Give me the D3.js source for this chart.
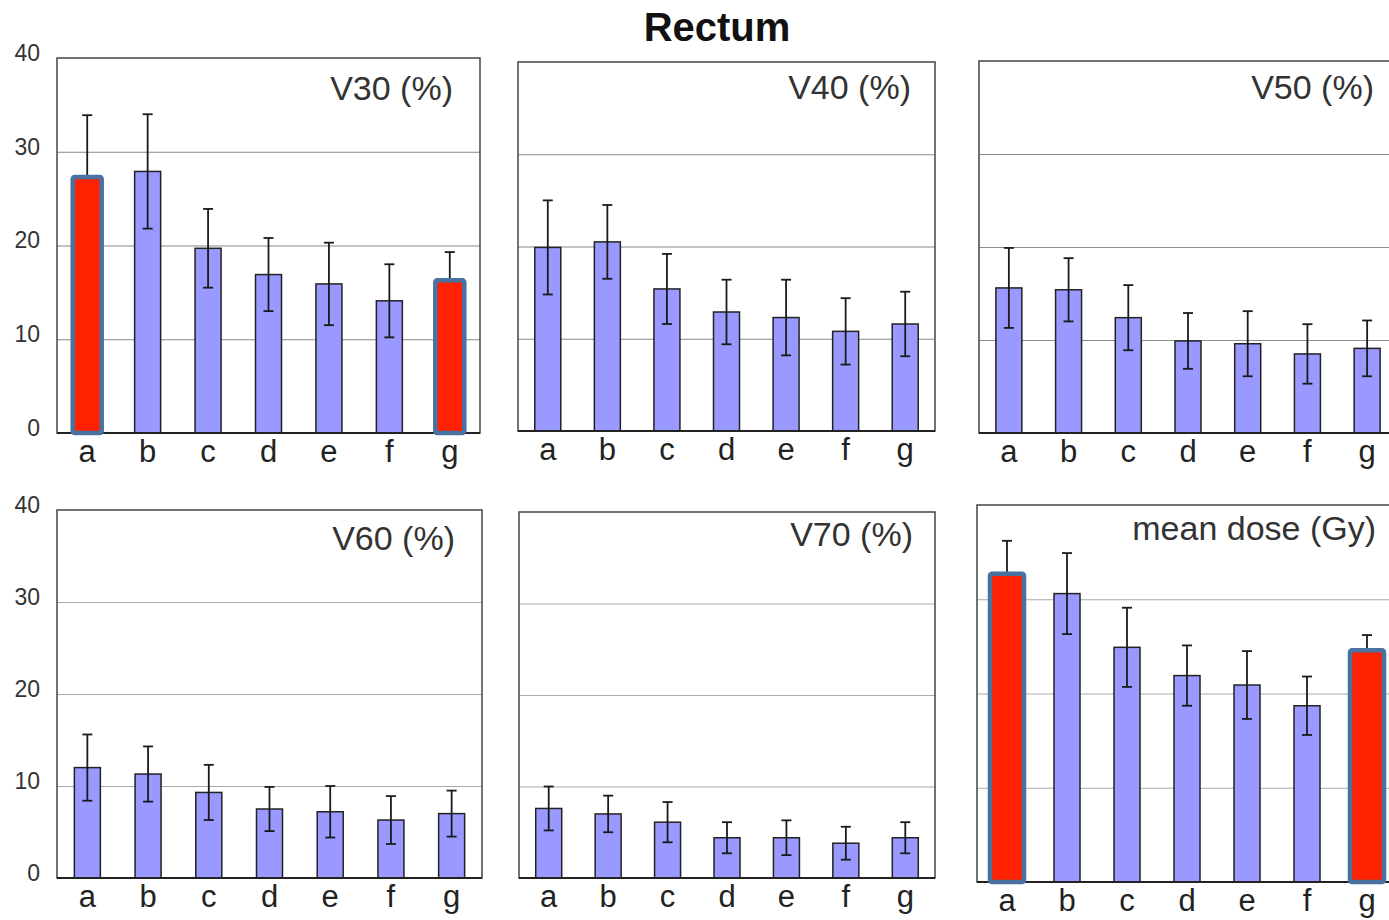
<!DOCTYPE html>
<html>
<head>
<meta charset="utf-8">
<script src="https://cdn.jsdelivr.net/npm/d3@7"></script>
<style>
  body { margin: 0; background: #fff; }
  text { font-family: "Liberation Sans", Arial, sans-serif; }
</style>
</head>
<body>
<svg id="chart"></svg>
<script>
// data (means and half error-bar lengths)
const categories = ["a", "b", "c", "d", "e", "f", "g"];
const yTicks = [0, 10, 20, 30, 40];
const panelTitles = ["V30 (%)", "V40 (%)", "V50 (%)", "V60 (%)", "V70 (%)", "mean dose (Gy)"];

const v30Mean = [27.3, 27.9, 19.7, 16.9, 15.9, 14.1, 16.3];
const v30Sd = [6.6, 6.1, 4.2, 3.9, 4.4, 3.9, 3.0];
const v40Mean = [19.9, 20.5, 15.4, 12.9, 12.3, 10.8, 11.6];
const v40Sd = [5.1, 4.0, 3.8, 3.5, 4.1, 3.6, 3.5];
const v50Mean = [15.6, 15.4, 12.4, 9.9, 9.6, 8.5, 9.1];
const v50Sd = [4.3, 3.4, 3.5, 3.0, 3.5, 3.2, 3.0];
const v60Mean = [12.0, 11.3, 9.3, 7.5, 7.2, 6.3, 7.0];
const v60Sd = [3.6, 3.0, 3.0, 2.4, 2.8, 2.6, 2.5];
const v70Mean = [7.6, 7.0, 6.1, 4.4, 4.4, 3.8, 4.4];
const v70Sd = [2.4, 2.0, 2.2, 1.7, 1.9, 1.8, 1.7];
const meanDose = [32.7, 30.6, 24.9, 21.9, 20.9, 18.7, 24.6];
const meanDoseSd = [3.5, 4.3, 4.2, 3.2, 3.6, 3.1, 1.6];

// bars drawn in red in some panels
const highlighted = [["a", "g"], [], [], [], [], ["a", "g"]];

const seriesMeans = [v30Mean, v40Mean, v50Mean, v60Mean, v70Mean, meanDose];
const seriesSds = [v30Sd, v40Sd, v50Sd, v60Sd, v70Sd, meanDoseSd];

// panel boxes on the page (titleY = absolute baseline of the panel title)
const layout = [
  { x: 57, y: 58, w: 423, h: 375, redW: 29, axis: true, grid: "#888", titleY: 100, titleR: 453 },
  { x: 518, y: 62, w: 417, h: 369, redW: 29, axis: false, grid: "#888", titleY: 99, titleR: 911 },
  { x: 979, y: 61, w: 418, h: 372, redW: 29, axis: false, grid: "#8c8c8c", titleY: 99, titleR: 1374 },
  { x: 57, y: 510, w: 425, h: 368, redW: 29, axis: true, grid: "#aaa", titleY: 550, titleR: 455 },
  { x: 519, y: 512, w: 416, h: 366, redW: 29, axis: false, grid: "#aaa", titleY: 546, titleR: 913 },
  { x: 977, y: 505, w: 420, h: 377, redW: 34, axis: false, grid: "#aaa", titleY: 540, titleR: 1376 },
];

const width = 1389;
const height = 920;
const blueFill = "#9999ff";
const redFill = "#ff2200";
const redStroke = "#4a72a0";

const svg = d3.select("#chart").attr("width", width).attr("height", height);

svg.append("text")
  .attr("x", 717)
  .attr("y", 41)
  .attr("text-anchor", "middle")
  .style("font-size", "40px")
  .style("font-weight", 700)
  .attr("fill", "#111")
  .text("Rectum");

layout.forEach((p, i) => {
  const data = categories.map((c, j) => ({
    cat: c,
    mean: seriesMeans[i][j],
    sd: seriesSds[i][j],
    red: highlighted[i].includes(c),
  }));

  const x = d3.scaleBand().domain(categories).range([0, p.w]).padding(0);
  const y = d3.scaleLinear().domain([0, 40]).range([p.h, 0]);
  const blueW = 26;
  const cx = (d) => x(d.cat) + x.bandwidth() / 2;

  const g = svg.append("g").attr("transform", `translate(${p.x},${p.y})`);

  // grid
  const grid = g.append("g")
    .call(d3.axisLeft(y).tickValues([10, 20, 30]).tickSize(-p.w).tickFormat(""));
  grid.select(".domain").remove();
  grid.selectAll("line").attr("stroke", p.grid).attr("stroke-width", 1.2);

  // frame
  g.append("rect")
    .attr("width", p.w)
    .attr("height", p.h)
    .attr("fill", "none")
    .attr("stroke", "#444")
    .attr("stroke-width", 1.5);

  if (p.axis) {
    const ax = g.append("g")
      .call(d3.axisLeft(y).tickValues(yTicks).tickSize(0).tickPadding(17));
    ax.select(".domain").remove();
    ax.selectAll("text")
      .attr("dy", "0.1em")
      .attr("fill", "#333")
      .style("font-size", "23px");
  }

  // blue bars
  g.selectAll(".bar")
    .data(data.filter((d) => !d.red))
    .join("rect")
    .attr("class", "bar")
    .attr("x", (d) => cx(d) - blueW / 2)
    .attr("y", (d) => y(d.mean))
    .attr("width", blueW)
    .attr("height", (d) => y(0) - y(d.mean))
    .attr("fill", blueFill)
    .attr("stroke", "#222")
    .attr("stroke-width", 1.5);

  // error bars
  const err = g.selectAll(".err").data(data).join("g").attr("class", "err")
    .attr("stroke", "#1a1a1a").attr("stroke-width", 1.8);
  err.append("line")
    .attr("x1", cx)
    .attr("x2", cx)
    .attr("y1", (d) => y(d.mean + d.sd))
    .attr("y2", (d) => y(d.mean - d.sd));
  err.append("line")
    .attr("x1", (d) => cx(d) - 5)
    .attr("x2", (d) => cx(d) + 5)
    .attr("y1", (d) => y(d.mean + d.sd))
    .attr("y2", (d) => y(d.mean + d.sd));
  err.filter((d) => !d.red).append("line")
    .attr("x1", (d) => cx(d) - 5)
    .attr("x2", (d) => cx(d) + 5)
    .attr("y1", (d) => y(d.mean - d.sd))
    .attr("y2", (d) => y(d.mean - d.sd));

  // bottom axis line
  g.append("line")
    .attr("x1", 0).attr("x2", p.w)
    .attr("y1", p.h).attr("y2", p.h)
    .attr("stroke", "#222").attr("stroke-width", 2);

  // red bars on top
  g.selectAll(".red")
    .data(data.filter((d) => d.red))
    .join("rect")
    .attr("class", "red")
    .attr("x", (d) => cx(d) - p.redW / 2)
    .attr("y", (d) => y(d.mean))
    .attr("width", p.redW)
    .attr("height", (d) => y(0) - y(d.mean))
    .attr("rx", 2)
    .attr("fill", redFill)
    .attr("stroke", redStroke)
    .attr("stroke-width", 4.5);

  // category labels
  g.selectAll(".xl")
    .data(categories)
    .join("text")
    .attr("class", "xl")
    .attr("x", (d) => x(d) + x.bandwidth() / 2)
    .attr("y", p.h + 29)
    .attr("text-anchor", "middle")
    .attr("fill", "#222")
    .style("font-size", "31px")
    .text((d) => d);

  // panel title
  svg.append("text")
    .attr("x", p.titleR)
    .attr("y", p.titleY)
    .attr("text-anchor", "end")
    .attr("fill", "#333")
    .style("font-size", "34px")
    .text(panelTitles[i]);
});
</script>
</body>
</html>
